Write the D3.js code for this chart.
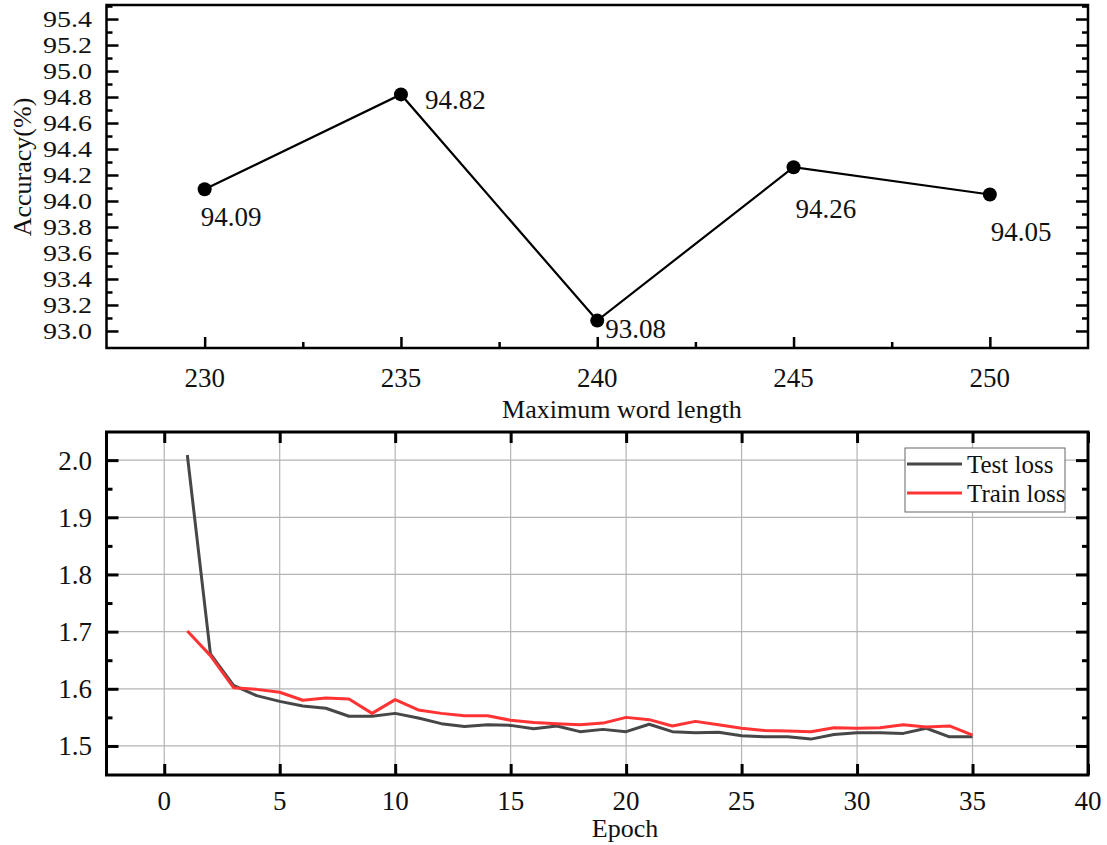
<!DOCTYPE html>
<html>
<head>
<meta charset="utf-8">
<script src="https://cdn.jsdelivr.net/npm/d3@7"></script>
<style>
  html, body { margin: 0; padding: 0; background: #fff; }
  svg text { font-family: "Liberation Serif", "Times New Roman", serif; fill: #111; }
</style>
</head>
<body>
<svg id="chart" width="1107" height="845" font-family="Liberation Serif, Times New Roman, serif"></svg>
<script>
// ---------- Data ----------
const wordLengths = [230, 235, 240, 245, 250];
const accuracy = [94.09, 94.82, 93.08, 94.26, 94.05];
const accuracyLabels = ["94.09", "94.82", "93.08", "94.26", "94.05"];
const accTicks = [93.0, 93.2, 93.4, 93.6, 93.8, 94.0, 94.2, 94.4, 94.6, 94.8, 95.0, 95.2, 95.4];
const wordTicks = [230, 235, 240, 245, 250];

const epochs = [1,2,3,4,5,6,7,8,9,10,11,12,13,14,15,16,17,18,19,20,21,22,23,24,25,26,27,28,29,30,31,32,33,34,35];
const testLoss = [2.009,1.661,1.606,1.588,1.578,1.570,1.566,1.552,1.552,1.557,1.549,1.539,1.534,1.537,1.536,1.530,
                  1.535,1.525,1.529,1.525,1.538,1.525,1.523,1.524,1.518,1.516,1.516,1.512,1.520,1.523,1.523,1.522,1.531,1.516,1.516];
const trainLoss = [1.701,1.658,1.602,1.599,1.594,1.580,1.584,1.582,1.557,1.581,1.563,1.557,1.553,1.553,1.545,1.541,
                   1.539,1.537,1.540,1.550,1.546,1.535,1.543,1.537,1.531,1.527,1.526,1.525,1.532,1.531,1.532,1.537,1.533,1.535,1.519];
const epochTicks = [0,5,10,15,20,25,30,35,40];
const lossTicks = [1.5,1.6,1.7,1.8,1.9,2.0];
const seriesNames = ["Test loss", "Train loss"];
const seriesColors = ["#474747", "#ff3333"];

const svg = d3.select("#chart");

// ---------- Top chart ----------
const T = {left: 106.5, right: 1088, top: 5, bottom: 348};
const xA = d3.scaleLinear().domain([227.5, 252.5]).range([T.left, T.right]);
const yA = d3.scaleLinear().domain([92.869, 95.508]).range([T.bottom, T.top]);

const gTop = svg.append("g");
const accMinor = d3.range(93.1, 95.5, 0.2);
const wordMinor = [232.5, 237.5, 242.5, 247.5];

gTop.append("g").attr("transform", `translate(0,${T.bottom})`)
  .call(d3.axisTop(xA).tickValues(wordTicks).tickSize(11).tickFormat(""))
  .call(g => g.select(".domain").remove());
gTop.append("g").attr("transform", `translate(0,${T.bottom})`)
  .call(d3.axisTop(xA).tickValues(wordMinor).tickSize(6).tickFormat(""))
  .call(g => g.select(".domain").remove());
gTop.append("g").attr("transform", `translate(${T.left},0)`)
  .call(d3.axisRight(yA).tickValues(accTicks).tickSize(12).tickFormat(""))
  .call(g => g.select(".domain").remove());
gTop.append("g").attr("transform", `translate(${T.left},0)`)
  .call(d3.axisRight(yA).tickValues(accMinor).tickSize(6).tickFormat(""))
  .call(g => g.select(".domain").remove());
gTop.append("g").attr("transform", `translate(${T.right},0)`)
  .call(d3.axisLeft(yA).tickValues(accTicks).tickSize(12).tickFormat(""))
  .call(g => g.select(".domain").remove());
gTop.append("g").attr("transform", `translate(${T.right},0)`)
  .call(d3.axisLeft(yA).tickValues(accMinor).tickSize(6).tickFormat(""))
  .call(g => g.select(".domain").remove());
gTop.selectAll(".tick line").attr("stroke", "#000").attr("stroke-width", 2.5);

// tick labels (slightly widened to match the reference's wide figures)
gTop.selectAll(".ylab").data(accTicks).join("text")
  .attr("transform", d => `translate(92,${yA(d)}) scale(1.22,1)`)
  .attr("dy", "0.35em")
  .attr("text-anchor", "end").style("font-size", "23px")
  .text(d => d.toFixed(1));
gTop.selectAll(".xlab").data(wordTicks).join("text")
  .attr("x", d => xA(d)).attr("y", 387)
  .attr("text-anchor", "middle").style("font-size", "27px")
  .text(d => d);

gTop.append("rect").attr("x", T.left).attr("y", T.top)
  .attr("width", T.right - T.left).attr("height", T.bottom - T.top)
  .attr("fill", "none").attr("stroke", "#000").attr("stroke-width", 2.5);

const accData = wordLengths.map((w, i) => ({x: w, y: accuracy[i], label: accuracyLabels[i]}));
gTop.append("path").datum(accData)
  .attr("d", d3.line().x(d => xA(d.x)).y(d => yA(d.y)))
  .attr("fill", "none").attr("stroke", "#000").attr("stroke-width", 2.2);
gTop.selectAll(".pt").data(accData).join("circle")
  .attr("cx", d => xA(d.x)).attr("cy", d => yA(d.y)).attr("r", 7).attr("fill", "#000");

const labelOffsets = [[-4, 37], [24, 15], [8, 17], [2, 51], [1, 46]];
gTop.selectAll(".dl").data(accData).join("text")
  .attr("x", (d, i) => xA(d.x) + labelOffsets[i][0])
  .attr("y", (d, i) => yA(d.y) + labelOffsets[i][1])
  .style("font-size", "27px")
  .text(d => d.label);

gTop.append("text").attr("transform", `translate(31,167) rotate(-90)`)
  .attr("text-anchor", "middle").style("font-size", "26px").text("Accuracy(%)");
gTop.append("text").attr("x", 622).attr("y", 418)
  .attr("text-anchor", "middle").style("font-size", "26px").text("Maximum word length");

// ---------- Bottom chart ----------
const B = {left: 106.5, right: 1088, top: 432, bottom: 775};
const xE = d3.scaleLinear().domain([-2.5, 40]).range([B.left, B.right]);
const yL = d3.scaleLinear().domain([1.4492, 2.0492]).range([B.bottom, B.top]);
const gB = svg.append("g");

gB.selectAll(".vg").data(epochTicks.filter(d => d < 40)).join("line")
  .attr("x1", d => xE(d)).attr("x2", d => xE(d)).attr("y1", B.top).attr("y2", B.bottom)
  .attr("stroke", "#b4b4b4").attr("stroke-width", 1.2);
gB.selectAll(".hg").data(lossTicks).join("line")
  .attr("x1", B.left).attr("x2", B.right).attr("y1", d => yL(d)).attr("y2", d => yL(d))
  .attr("stroke", "#b4b4b4").attr("stroke-width", 1.2);

const lossMinor = [1.55, 1.65, 1.75, 1.85, 1.95];
gB.append("g").attr("transform", `translate(0,${B.bottom})`)
  .call(d3.axisTop(xE).tickValues(epochTicks).tickSize(11).tickFormat(""))
  .call(g => g.select(".domain").remove());
gB.append("g").attr("transform", `translate(0,${B.top})`)
  .call(d3.axisBottom(xE).tickValues(epochTicks).tickSize(11).tickFormat(""))
  .call(g => g.select(".domain").remove());
gB.append("g").attr("transform", `translate(${B.left},0)`)
  .call(d3.axisRight(yL).tickValues(lossTicks).tickSize(12).tickFormat(""))
  .call(g => g.select(".domain").remove());
gB.append("g").attr("transform", `translate(${B.left},0)`)
  .call(d3.axisRight(yL).tickValues(lossMinor).tickSize(6).tickFormat(""))
  .call(g => g.select(".domain").remove());
gB.append("g").attr("transform", `translate(${B.right},0)`)
  .call(d3.axisLeft(yL).tickValues(lossTicks).tickSize(12).tickFormat(""))
  .call(g => g.select(".domain").remove());
gB.append("g").attr("transform", `translate(${B.right},0)`)
  .call(d3.axisLeft(yL).tickValues(lossMinor).tickSize(6).tickFormat(""))
  .call(g => g.select(".domain").remove());
gB.selectAll(".tick line").attr("stroke", "#000").attr("stroke-width", 3);

gB.selectAll(".ylab").data(lossTicks).join("text")
  .attr("x", 92).attr("y", d => yL(d)).attr("dy", "0.35em")
  .attr("text-anchor", "end").style("font-size", "27px")
  .text(d => d.toFixed(1));
gB.selectAll(".xlab").data(epochTicks).join("text")
  .attr("x", d => xE(d)).attr("y", 810)
  .attr("text-anchor", "middle").style("font-size", "27px")
  .text(d => d);

const lineE = d3.line().x(d => xE(d.x)).y(d => yL(d.y));
const testData = epochs.map((e, i) => ({x: e, y: testLoss[i]}));
const trainData = epochs.map((e, i) => ({x: e, y: trainLoss[i]}));
gB.append("path").datum(testData).attr("d", lineE)
  .attr("fill", "none").attr("stroke", seriesColors[0]).attr("stroke-width", 3).attr("stroke-linejoin", "round");
gB.append("path").datum(trainData).attr("d", lineE)
  .attr("fill", "none").attr("stroke", seriesColors[1]).attr("stroke-width", 3).attr("stroke-linejoin", "round");

gB.append("rect").attr("x", B.left).attr("y", B.top)
  .attr("width", B.right - B.left).attr("height", B.bottom - B.top)
  .attr("fill", "none").attr("stroke", "#000").attr("stroke-width", 3);

// legend
const lg = gB.append("g");
lg.append("rect").attr("x", 905).attr("y", 448).attr("width", 160).attr("height", 64)
  .attr("fill", "#fff").attr("stroke", "#666").attr("stroke-width", 1);
seriesNames.forEach((name, i) => {
  const y = 464 + i * 29;
  lg.append("line").attr("x1", 907).attr("x2", 962).attr("y1", y).attr("y2", y)
    .attr("stroke", seriesColors[i]).attr("stroke-width", 3);
  lg.append("text").attr("x", 967).attr("y", y).attr("dy", "0.35em")
    .style("font-size", "25px").text(name);
});

gB.append("text").attr("x", 625).attr("y", 837)
  .attr("text-anchor", "middle").style("font-size", "26px").text("Epoch");
</script>
</body>
</html>
